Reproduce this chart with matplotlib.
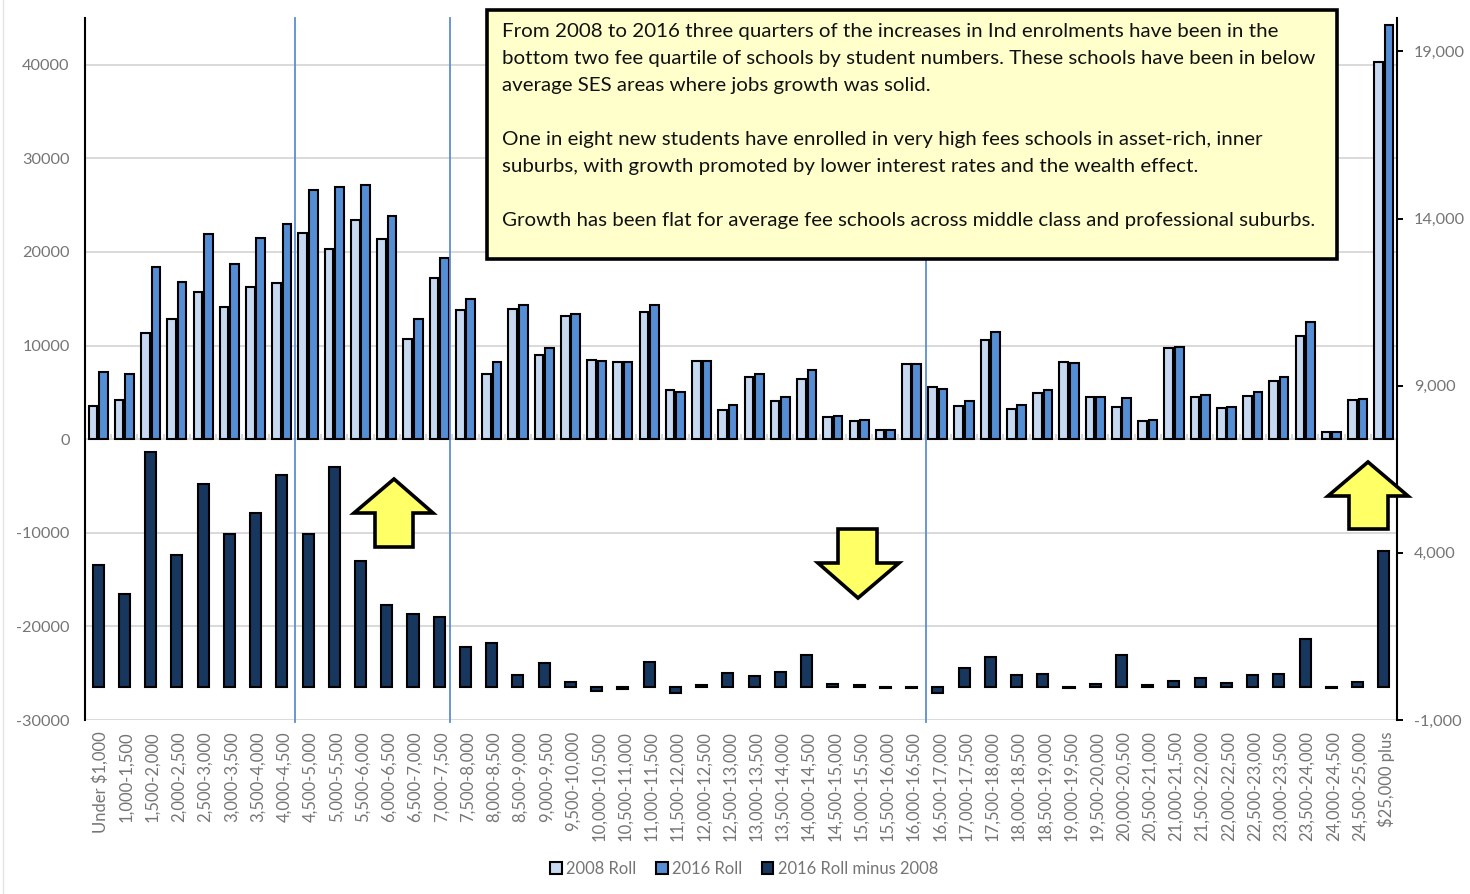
import numpy as np
import matplotlib
matplotlib.use("Agg")
import matplotlib.pyplot as plt
from matplotlib.patches import Polygon, Rectangle

categories = ["Under $1,000", "1,000-1,500", "1,500-2,000", "2,000-2,500", "2,500-3,000",
              "3,000-3,500", "3,500-4,000", "4,000-4,500", "4,500-5,000", "5,000-5,500",
              "5,500-6,000", "6,000-6,500", "6,500-7,000", "7,000-7,500", "7,500-8,000",
              "8,000-8,500", "8,500-9,000", "9,000-9,500", "9,500-10,000", "10,000-10,500",
              "10,500-11,000", "11,000-11,500", "11,500-12,000", "12,000-12,500", "12,500-13,000",
              "13,000-13,500", "13,500-14,000", "14,000-14,500", "14,500-15,000", "15,000-15,500",
              "15,500-16,000", "16,000-16,500", "16,500-17,000", "17,000-17,500", "17,500-18,000",
              "18,000-18,500", "18,500-19,000", "19,000-19,500", "19,500-20,000", "20,000-20,500",
              "20,500-21,000", "21,000-21,500", "21,500-22,000", "22,000-22,500", "22,500-23,000",
              "23,000-23,500", "23,500-24,000", "24,000-24,500", "24,500-25,000", "$25,000 plus"]

roll_2008 = [3590, 4190, 11350, 12880, 15760, 14130, 16300, 16690, 22000, 20320,
             23420, 21350, 10710, 17220, 13770, 6935, 13950, 9000, 13130, 8500,
             8290, 13560, 5300, 8395, 3130, 6650, 4050, 6440, 2410, 1990,
             950, 8070, 5620, 3520, 10640, 3230, 4980, 8290, 4480, 3410,
             1990, 9710, 4550, 3300, 4660, 6220, 11060, 740, 4160, 40250]

roll_2016 = [7220, 7000, 18400, 16830, 21890, 18680, 21460, 23030, 26620, 26980,
             27160, 23850, 12880, 19320, 14980, 8290, 14300, 9710, 13340, 8395,
             8290, 14300, 5080, 8395, 3620, 6935, 4550, 7360, 2520, 2090,
             950, 8070, 5400, 4050, 11490, 3620, 5300, 8180, 4550, 4440,
             2090, 9820, 4760, 3410, 5080, 6610, 12520, 740, 4270, 44200]

roll_diff = [3630, 2760, 7020, 3950, 6060, 4560, 5190, 6320, 4570, 6580,
             3750, 2440, 2180, 2070, 1180, 1290, 340, 710, 140, -130,
             -80, 740, -180, 40, 420, 310, 450, 950, 80, 40,
             -30, -30, -180, 570, 890, 340, 370, -40, 80, 950,
             60, 160, 250, 110, 340, 390, 1430, -30, 130, 4060]

left_ticks = [-30000, -20000, -10000, 0, 10000, 20000, 30000, 40000]
left_tick_labels = ["-30000", "-20000", "-10000", "0", "10000", "20000", "30000", "40000"]
right_ticks = [-1000, 4000, 9000, 14000, 19000]
right_tick_labels = ["-1,000", "4,000", "9,000", "14,000", "19,000"]

note_lines = ["From 2008 to 2016 three quarters of the increases in Ind enrolments have been in the",
              "bottom two fee quartile of schools by student numbers. These schools have been in below",
              "average SES areas where jobs growth was solid.",
              "",
              "One in eight new students have enrolled in very high fees schools in asset-rich, inner",
              "suburbs, with growth promoted by lower interest rates and the wealth effect.",
              "",
              "Growth has been flat for average fee schools across middle class and professional suburbs."]

W, H = 1470, 894
GREY = "#757575"
plt.rcParams["font.family"] = ["Lato", "DejaVu Sans"]


def fx(px):
    """ Pixel x of the picture -> figure coordinate """
    return px / W


def fy(py):
    """ Pixel y of the picture (from the top) -> figure coordinate """
    return 1 - py / H


def add_arrow(fig, points):
    """ Yellow block arrow drawn on top of the chart, points are in picture pixels """
    pts = [(fx(x), fy(y)) for x, y in points]
    fig.add_artist(Polygon(pts, closed=True, transform=fig.transFigure, facecolor="#FFFF66",
                           edgecolor="black", linewidth=2.6, joinstyle="miter", zorder=10))


fig = plt.figure(figsize=(W / 100, H / 100), dpi=100)
ax = fig.add_axes([fx(85), fy(720), fx(1397) - fx(85), fy(18) - fy(720)])
ax2 = ax.twinx()

x = np.arange(len(categories))

# Left axis: the two roll series
ax.set_axisbelow(True)
ax.grid(axis="y", color="#d9d9d9", linewidth=1.4)
bars_2008 = ax.bar(x - 0.2, roll_2008, width=0.33, color="#C6D9F1", edgecolor="black", linewidth=1.5, zorder=3)
bars_2016 = ax.bar(x + 0.2, roll_2016, width=0.33, color="#558ED5", edgecolor="black", linewidth=1.5, zorder=3)
ax.vlines(x[:-1] + 0.5, -50, 550, color="#d9d9d9", linewidth=1.4, zorder=2)  # category ticks on the zero line

ax.set_xlim(-0.5, len(categories) - 0.5)
ax.set_ylim(-30000, 45000)
ax.set_yticks(left_ticks)
ax.set_yticklabels(left_tick_labels, color=GREY, fontsize=11.7)
ax.set_xticks(x + 0.08)  # labels sit a little right of the bar centres
ax.set_xticklabels(categories, rotation=90, color=GREY, fontsize=12)
ax.tick_params(axis="x", length=0, pad=8)
ax.tick_params(axis="y", length=0, pad=11)

# Right axis: the difference
bars_diff = ax2.bar(x, roll_diff, width=0.42, color="#17375E", edgecolor="black", linewidth=1.5, zorder=3)
ax2.set_ylim(-1000, 20000)
ax2.set_yticks(right_ticks)
ax2.set_yticklabels(right_tick_labels, color=GREY, fontsize=11.7)
ax2.tick_params(axis="y", length=4.5, width=1.4, color="black", pad=7.5)

ax.spines[["top", "right", "bottom"]].set_visible(False)
ax2.spines[["top", "left", "bottom"]].set_visible(False)
ax.spines["left"].set_linewidth(1.5)
ax2.spines["right"].set_linewidth(1.5)

# Blue divider lines
for px in [295, 450, 926]:
    fig.add_artist(plt.Line2D([fx(px), fx(px)], [fy(18), fy(722)], color="#5B8FD0", linewidth=1.3, zorder=5))

# Note box
fig.add_artist(Rectangle((fx(487), fy(259)), fx(1337) - fx(487), fy(10) - fy(259), transform=fig.transFigure,
                         facecolor="#FFFFCC", edgecolor="black", linewidth=2.6, zorder=8))
for i, line in enumerate(note_lines):
    fig.text(fx(502), fy(31.5 + 27 * i), line, fontsize=14.75, color="#111111", va="center", zorder=9)

# Arrows
add_arrow(fig, [(394, 479), (433, 513), (413, 513), (413, 547), (375, 547), (375, 513), (354, 513)])
add_arrow(fig, [(1368, 462), (1408, 496), (1388, 496), (1388, 529), (1349, 529), (1349, 496), (1328, 496)])
add_arrow(fig, [(858, 598), (899, 563), (877, 563), (877, 529), (838, 529), (838, 563), (818, 563)])

# Legend
fig.legend([bars_2008, bars_2016, bars_diff], ["2008 Roll", "2016 Roll", "2016 Roll minus 2008"],
           loc="center", bbox_to_anchor=(fx(744), fy(869)), ncols=3, frameon=False, fontsize=11.9,
           labelcolor=GREY, handlelength=0.7, handleheight=0.7, handletextpad=0.25, columnspacing=1.2)

# Faint edge of the screenshot
fig.add_artist(plt.Line2D([fx(3), fx(3)], [0, 1], color="#e4e4e4", linewidth=1))

fig.savefig("out.png", dpi=100)
